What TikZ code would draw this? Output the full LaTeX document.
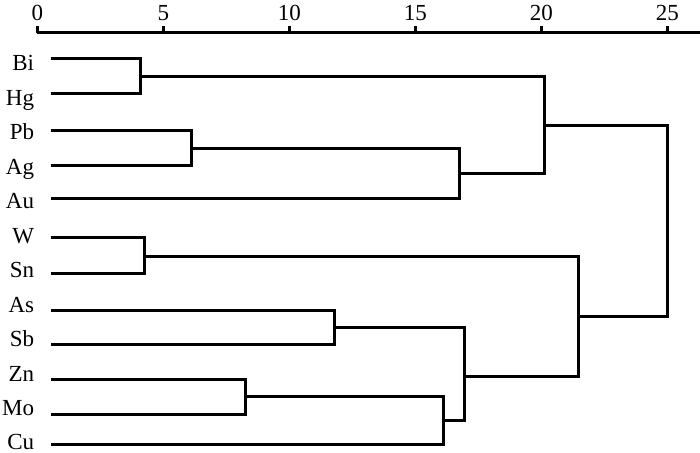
\documentclass[tikz,border=0pt]{standalone}
\usepackage{fontspec}
\setmainfont{Liberation Serif}
\begin{document}
\begin{tikzpicture}[x=0.5pt,y=-0.5pt,
  line/.style={line width=1.5pt,line join=miter,line cap=rect},
  lbl/.style={anchor=base east,inner sep=0pt,font=\fontsize{11.5pt}{13pt}\selectfont},
  tlbl/.style={anchor=base,inner sep=0pt,font=\fontsize{11.5pt}{13pt}\selectfont}]
\useasboundingbox (0,0) rectangle (700,453);
% axis
\coordinate (a0) at (37.3,33);
\coordinate (aend) at (700,33);
\draw[line width=1.5pt] (a0) -- (aend);
\foreach \k in {0,5,10,15,20,25}{
  \coordinate (t\k) at ({37.3+25.2*\k},33);
  \draw[line width=1.5pt] (t\k) -- ++(0,-6.5);
  \node[tlbl] (tl\k) at ({37.3+25.2*\k},21) {\k};
}
% leaves
\foreach \n/\y/\i in {Bi/59/0,Hg/94/1,Pb/131/2,Ag/166/3,Au/199/4,W/238/5,Sn/274/6,As/311/7,Sb/345/8,Zn/380/9,Mo/414/10,Cu/444/11}{
  \coordinate (\n) at (52,\y);
  \node[lbl] (L\n) at (34.5,{71+34.45*\i}) {\n};
}
% merge points
\coordinate (m1) at (140,76.5);   % Bi Hg
\coordinate (m2) at (191,148.5);  % Pb Ag
\coordinate (m3) at (459,174);    % PbAg Au
\coordinate (m4) at (544,125.5);  % top group
\coordinate (m5) at (144,256.5);  % W Sn
\coordinate (m6) at (334,328);    % As Sb
\coordinate (m7) at (245,397);    % Zn Mo
\coordinate (m8) at (443,420);    % ZnMo Cu
\coordinate (m9) at (464,377);    % AsSb ZnMoCu
\coordinate (m10) at (578,317);   % WSn rest
\coordinate (m11) at (667,125.5); % root
\draw[line] (Bi) -| (m1) |- (Hg);
\draw[line] (Pb) -| (m2) |- (Ag);
\draw[line] (m2) -| (m3) |- (Au);
\draw[line] (m1) -| (m4) |- (m3);
\draw[line] (W) -| (m5) |- (Sn);
\draw[line] (As) -| (m6) |- (Sb);
\draw[line] (Zn) -| (m7) |- (Mo);
\draw[line] (m7) -| (m8) |- (Cu);
\draw[line] (m6) -| (m9) |- (m8);
\draw[line] (m5) -| (m10) |- (m9);
\draw[line] (m4) -| (m11) |- (m10);
\end{tikzpicture}
\end{document}
